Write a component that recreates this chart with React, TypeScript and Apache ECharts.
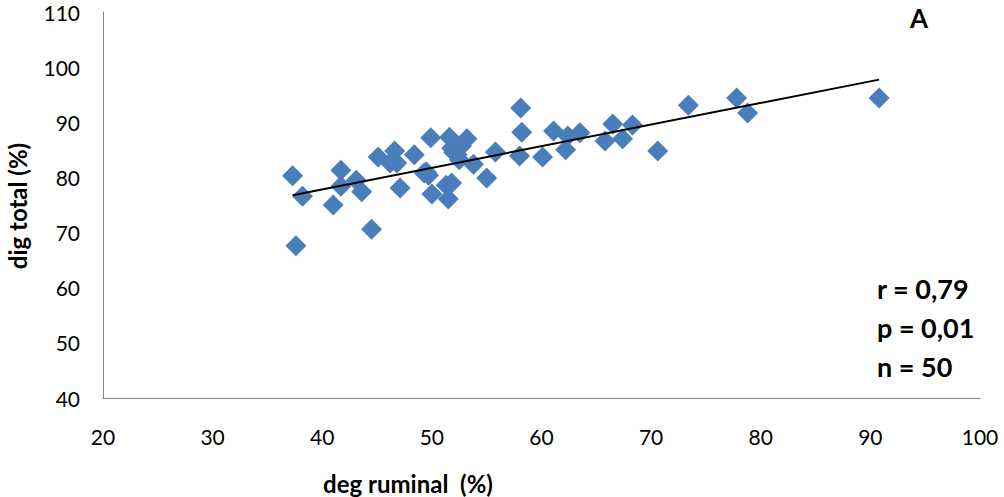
import React, { useEffect, useRef } from "react";
import * as echarts from "echarts";

const degRuminal: number[] = [
  37.3, 37.6, 38.2, 41.0, 41.7, 41.7, 43.1, 43.6, 44.5, 45.1,
  46.2, 46.6, 46.8, 47.1, 48.4, 49.3, 49.7, 49.9, 50.0, 51.3,
  51.5, 51.6, 51.8, 51.8, 52.3, 52.5, 52.7, 53.2, 53.8, 55.0,
  55.8, 58.0, 58.1, 58.2, 60.1, 61.1, 62.2, 62.4, 63.5, 65.8,
  66.5, 67.4, 68.3, 70.6, 73.4, 77.8, 78.8, 90.8, 49.5, 52.0,
];
const digTotal: number[] = [
  80.3, 67.6, 76.6, 75.0, 81.3, 78.4, 79.5, 77.4, 70.6, 83.7,
  82.6, 84.8, 82.6, 78.1, 84.1, 80.8, 80.4, 87.2, 77.0, 78.6,
  76.1, 87.3, 79.0, 85.3, 84.1, 83.2, 85.7, 87.0, 82.4, 79.9,
  84.6, 83.9, 92.6, 88.2, 83.7, 88.4, 85.0, 87.5, 88.1, 86.6,
  89.7, 87.0, 89.5, 84.8, 93.1, 94.4, 91.7, 94.4, 81.0, 84.5,
];
const xTicks: number[] = [20, 30, 40, 50, 60, 70, 80, 90, 100];
const yTicks: number[] = [40, 50, 60, 70, 80, 90, 100, 110];
const statsLines: string[] = ["r = 0,79", "p = 0,01", "n = 50"];

export default function App() {
  const ref = useRef<HTMLDivElement>(null);
  useEffect(() => {
    if (!ref.current) return;
    const chart = echarts.init(ref.current, undefined, { renderer: "svg" });
    const pts = degRuminal.map((x, i) => [x, digTotal[i]]);
    const n = degRuminal.length;
    const mx = degRuminal.reduce((a, b) => a + b, 0) / n;
    const my = digTotal.reduce((a, b) => a + b, 0) / n;
    let sxy = 0, sxx = 0;
    for (let i = 0; i < n; i++) {
      sxy += (degRuminal[i] - mx) * (digTotal[i] - my);
      sxx += (degRuminal[i] - mx) ** 2;
    }
    const slope = sxy / sxx;
    const icpt = my - slope * mx;
    const x0 = Math.min(...degRuminal);
    const x1 = Math.max(...degRuminal);
    const trend = [[x0, icpt + slope * x0], [x1, icpt + slope * x1]];
    const font = "Lato, 'Open Sans', sans-serif";
    chart.setOption({
      animation: false,
      backgroundColor: "#ffffff",
      grid: { left: 103, right: 24, top: 12, bottom: 99 },
      xAxis: {
        type: "value",
        min: xTicks[0],
        max: xTicks[xTicks.length - 1],
        interval: 10,
        splitLine: { show: false },
        axisTick: { show: false },
        axisLine: { show: true, lineStyle: { color: "#868686", width: 1 } },
        axisLabel: { color: "#000", fontSize: 21, fontFamily: font, margin: 28 },
      },
      yAxis: {
        type: "value",
        min: yTicks[0],
        max: yTicks[yTicks.length - 1],
        interval: 10,
        splitLine: { show: false },
        axisTick: { show: false },
        axisLine: { show: true, lineStyle: { color: "#868686", width: 1 } },
        axisLabel: { color: "#000", fontSize: 21, fontFamily: font, margin: 23 },
      },
      series: [
        {
          type: "scatter",
          data: pts,
          symbol: "diamond",
          symbolSize: 21,
          itemStyle: { color: "#4a7ebb", opacity: 1 },
          z: 2,
        },
        {
          type: "line",
          data: trend,
          symbol: "none",
          lineStyle: { color: "#000", width: 2 },
          z: 3,
        },
      ],
      graphic: [
        {
          type: "text",
          x: 17,
          y: 206,
          rotation: Math.PI / 2,
          style: {
            text: "dig total (%)",
            font: `bold 24px ${font}`,
            fill: "#000",
            align: "center",
            verticalAlign: "middle",
          },
        },
        {
          type: "text",
          x: 408,
          y: 483,
          style: {
            text: "deg ruminal  (%)",
            font: `bold 24px ${font}`,
            fill: "#000",
            align: "center",
            verticalAlign: "middle",
          },
        },
        {
          type: "text",
          x: 919,
          y: 18,
          style: {
            text: "A",
            font: `bold 26px ${font}`,
            fill: "#000",
            align: "center",
            verticalAlign: "middle",
          },
        },
        ...statsLines.map((t, i) => ({
          type: "text",
          x: 877,
          y: 288 + i * 39,
          style: {
            text: t,
            font: `bold 27px ${font}`,
            fill: "#000",
            align: "left",
            verticalAlign: "middle",
          },
        })),
      ],
    });
    return () => chart.dispose();
  }, []);
  return (
    <div
      ref={ref}
      style={{ position: "fixed", left: 0, top: 0, width: 1004, height: 497 }}
    />
  );
}
